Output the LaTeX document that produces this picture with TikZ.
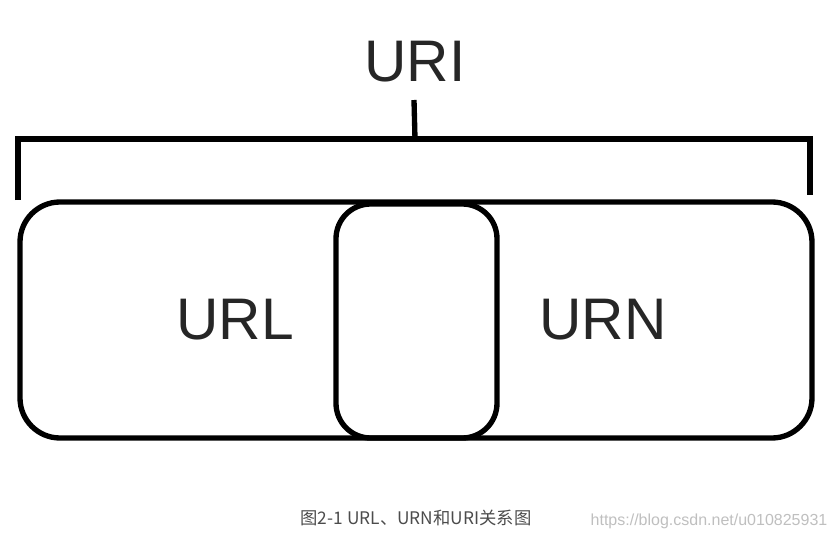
\documentclass[tikz,border=0pt]{standalone}
\usepackage{fontspec}
\setmainfont{Liberation Sans}
\newfontfamily\cjk{Noto Sans CJK SC}
\begin{document}
\begin{tikzpicture}[x=0.75pt,y=-0.75pt,
  stroke/.style={line width=4pt,black},
  big/.style={font=\fontsize{44}{48}\selectfont,text=black!85}]
\useasboundingbox (0,0) rectangle (833,539);
\draw[stroke,rounded corners=30pt] (20,202) rectangle (812,438);
\draw[stroke,rounded corners=26pt] (336,204) rectangle (497,438);
\draw[stroke] (18,200) -- (18,139) -- (810,139) -- (810,195);
\coordinate (top) at (415,139);
\node[big] (uri) at (415,62) {URI};
\draw[stroke] (414,100) -- (top);
\node[big] (url) at (235,320) {URL};
\node[big] (urn) at (603,320) {URN};
\node[font=\cjk\fontsize{13}{15}\selectfont,text=black!70] (cap) at (416,518) {图2-1 URL、URN和URI关系图};
\node[font=\fontsize{12}{14}\selectfont,text=black!25] (wm) at (709,521) {https://blog.csdn.net/u010825931};
\end{tikzpicture}
\end{document}
